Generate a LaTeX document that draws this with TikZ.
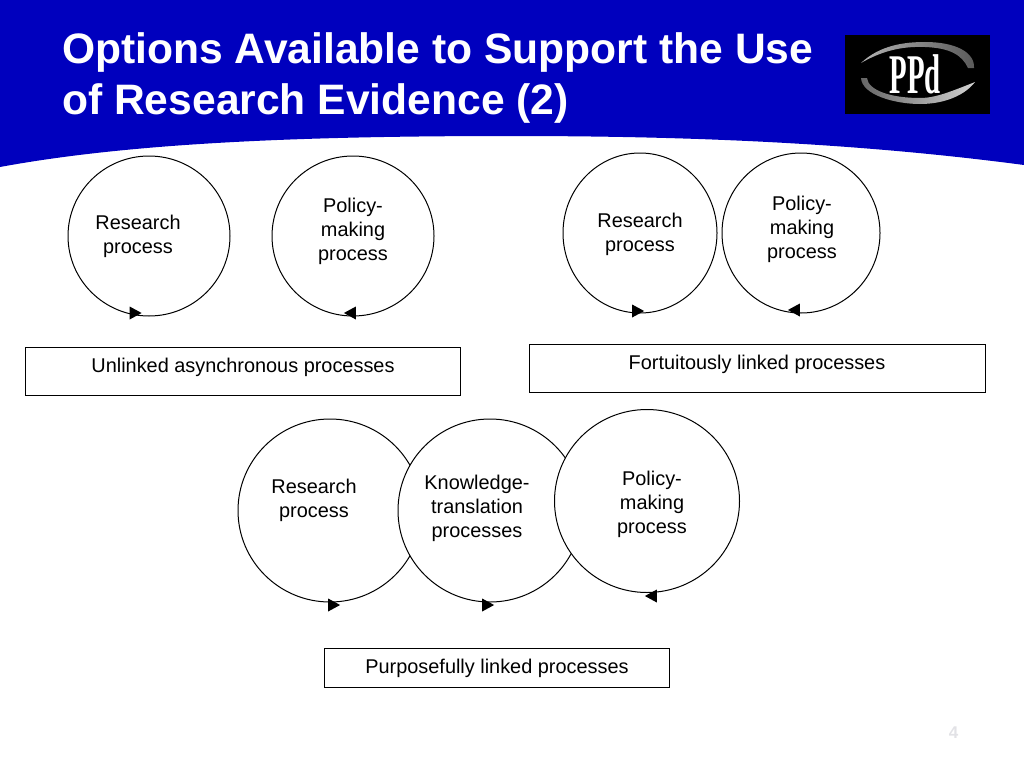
\documentclass[tikz,border=0pt]{standalone}
\usepackage{fontspec}
\setmainfont{Liberation Sans}
\usetikzlibrary{shapes.geometric}
\definecolor{bandblue}{HTML}{0000BE}
\definecolor{pagegrey}{HTML}{E2E2E6}
\tikzset{
  loopcircle/.style={ellipse, draw, fill=white, line width=1pt, inner sep=0pt},
  looptext/.style={font=\fontsize{19.9}{24}\selectfont, align=center, inner sep=0pt},
  captionbox/.style={rectangle, draw, line width=0.8pt, inner sep=0pt},
  tipright/.style={isosceles triangle, isosceles triangle stretches, fill=black, inner sep=0pt, minimum height=12pt, minimum width=13pt, shape border rotate=0},
  tipleft/.style={tipright, shape border rotate=180}
}
\begin{document}
\begin{tikzpicture}[x=1pt, y=-1pt]
  \useasboundingbox (0,0) rectangle (1024,768);

  % band and title
  \fill[bandblue] (0,0) -- (1024,0) -- (1024,165) .. controls (850,142) and (680,136) .. (510,136) .. controls (300,136) and (130,143) .. (0,167) -- cycle;
  \node[text=white, font=\fontsize{42.6}{51}\selectfont\bfseries, align=left, anchor=north west, inner sep=0pt] (title) at (62,32) {Options Available to Support the Use\\of Research Evidence (2)};

  % logo
  \node[rectangle, fill=black, minimum width=145pt, minimum height=79pt, inner sep=0pt] (logo) at (917.5,74.5) {};
  \fill[left color=gray!60, right color=gray!70!black] (861,63) .. controls (880,45) and (905,42) .. (925,42) .. controls (955,42) and (975,52) .. (974,68) -- (968,68) .. controls (962,55) and (950,48) .. (925,47) .. controls (900,46) and (880,52) .. (861,63) -- cycle;
  \fill[left color=gray!80!black, right color=gray!35] (861,78) .. controls (862,95) and (895,104) .. (920,104) .. controls (945,104) and (965,95) .. (975,82) .. controls (950,92) and (935,98) .. (920,98) .. controls (890,98) and (868,90) .. (867,78) -- cycle;
  \node[text=white, inner sep=0pt] (logotext) at (915,74) {\scalebox{0.72}[1.4]{\fontspec{Liberation Serif}\bfseries\fontsize{40}{40}\selectfont PPd}};

  % top left pair
  \node[loopcircle, minimum width=162pt, minimum height=160pt] (R1) at (149,236) {};
  \node[loopcircle, minimum width=162pt, minimum height=160pt] (P1) at (353,236) {};
  \node[tipright] (R1tip) at (133.5,313) {};
  \node[tipleft] (P1tip) at (352,313) {};
  \node[looptext] (R1text) at (138,236) {Research\\process};
  \node[looptext] (P1text) at (353,231) {Policy-\\making\\process};
  \node[captionbox, minimum width=435.5pt, minimum height=48pt] (box1) at (243,371) {};
  \node[looptext] (box1text) at (243,367) {Unlinked asynchronous processes};

  % top right pair
  \node[loopcircle, minimum width=154pt, minimum height=160pt] (R2) at (640,233) {};
  \node[loopcircle, minimum width=158pt, minimum height=160pt] (P2) at (801,233) {};
  \node[tipright] (R2tip) at (636,311) {};
  \node[tipleft] (P2tip) at (796,310) {};
  \node[looptext] (R2text) at (640,234) {Research\\process};
  \node[looptext] (P2text) at (802,229) {Policy-\\making\\process};
  \node[captionbox, minimum width=456pt, minimum height=48pt] (box2) at (757,368) {};
  \node[looptext] (box2text) at (757,364) {Fortuitously linked processes};

  % bottom row
  \node[loopcircle, minimum width=184pt, minimum height=183pt] (R3) at (330,510.5) {};
  \node[loopcircle, minimum width=184pt, minimum height=183pt] (K3) at (490,510.5) {};
  \node[loopcircle, minimum width=185pt, minimum height=183pt] (P3) at (647,501) {};
  \node[tipright] (R3tip) at (332,605) {};
  \node[tipright] (K3tip) at (486,605) {};
  \node[tipleft] (P3tip) at (653,596) {};
  \node[looptext] (R3text) at (314,500) {Research\\process};
  \node[looptext] (K3text) at (477,508) {Knowledge-\\translation\\processes};
  \node[looptext] (P3text) at (652,504) {Policy-\\making\\process};
  \node[captionbox, minimum width=345.5pt, minimum height=39pt] (box3) at (497,667.5) {};
  \node[looptext] (box3text) at (497,668) {Purposefully linked processes};

  % page number
  \node[text=pagegrey, font=\fontsize{17}{17}\selectfont\bfseries, inner sep=0pt] (pagenum) at (953.5,733) {4};
\end{tikzpicture}
\end{document}
